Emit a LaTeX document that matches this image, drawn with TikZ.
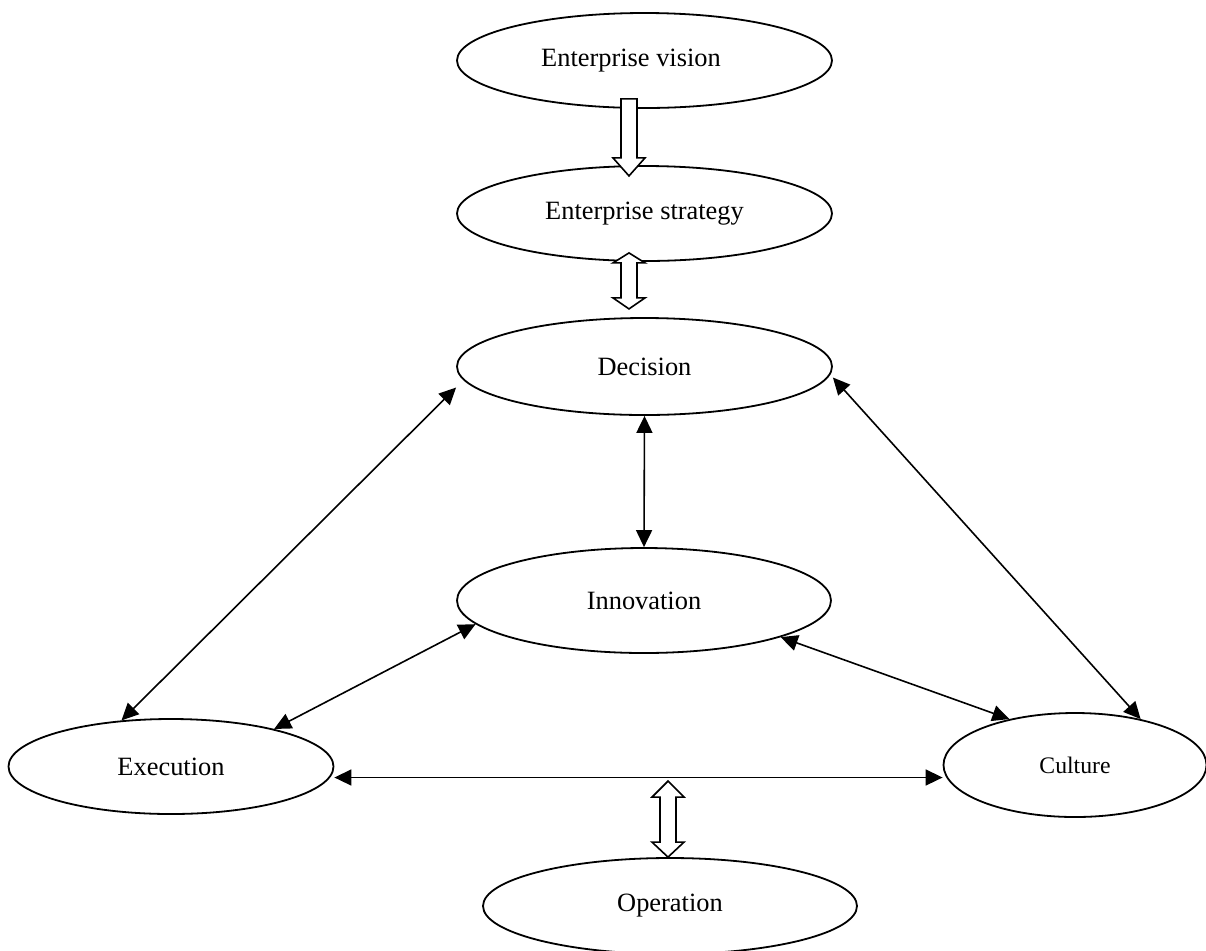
\documentclass[tikz,border=0pt]{standalone}
\usepackage{fontspec}
\setmainfont{Liberation Serif}
\usetikzlibrary{shapes.geometric,arrows.meta}
\begin{document}
\begin{tikzpicture}[x=0.5pt,y=-0.5pt,
    oval/.style={draw,ellipse,line width=0.9pt,inner sep=0pt,font=\fontsize{13.2}{15}\selectfont},
    link/.style={{Triangle[length=8.5pt,width=8pt]}-{Triangle[length=8.5pt,width=8pt]},line width=0.8pt},
    hollow/.style={draw,fill=white,line width=0.8pt,line join=miter}]
            \useasboundingbox (0,0) rectangle (1206,950);
            % ellipses
            \node[oval,minimum width=187.5pt,minimum height=47.5pt] (vision) at (644.5,60.5) {\hspace*{-13.5pt}Enterprise vision};
            \node[oval,minimum width=187.5pt,minimum height=47.5pt] (strategy) at (644.5,213.5) {Enterprise strategy};
            \node[oval,minimum width=187.5pt,minimum height=48.5pt] (decision) at (644.5,366.5) {Decision};
            \node[oval,minimum width=187pt,minimum height=52.5pt] (innovation) at (644,600.5) {Innovation};
            \node[oval,minimum width=162.5pt,minimum height=47.5pt] (execution) at (171,766.5) {Execution};
            \node[oval,minimum width=131.5pt,minimum height=52pt,font=\fontsize{11.85}{14}\selectfont] (culture) at (1075,765) {Culture};
            \node[oval,minimum width=187pt,minimum height=48pt] (operation) at (670,906) {Operation};
            % links
            \draw[link] ([yshift=-10.5pt]decision.west) -- (execution.137);
            \draw[link] ([yshift=-5.5pt]decision.east) -- (culture.35);
            \draw[link] (decision.south) -- (innovation.north);
            \draw[link] (innovation.188) -- (execution.20);
            \draw[link] (innovation.345) -- (culture.145);
            \draw[link] ([yshift=-5.5pt]execution.east) -- ([yshift=-6.25pt]culture.west);
            % block arrows
            \draw[hollow] ([xshift=-11.75pt,yshift=5pt]vision.south) -- ++(16,0) -- ++(0,59) -- ++(8,0) -- ++(-16,18) -- ++(-16,-18) -- ++(8,0) -- cycle;
            \draw[hollow] ([xshift=-7.75pt,yshift=4.5pt]strategy.south) -- ++(16,10) -- ++(-8,0) -- ++(0,35) -- ++(8,0) -- ++(-16,11) -- ++(-16,-11) -- ++(8,0) -- ++(0,-35) -- ++(-8,0) -- cycle;
            \draw[hollow] ([xshift=-1pt]operation.north) -- ++(-16,-15) -- ++(8,0) -- ++(0,-45) -- ++(-8,0) -- ++(16,-16) -- ++(16,16) -- ++(-8,0) -- ++(0,45) -- ++(8,0) -- cycle;
         \end{tikzpicture}
\end{document}
